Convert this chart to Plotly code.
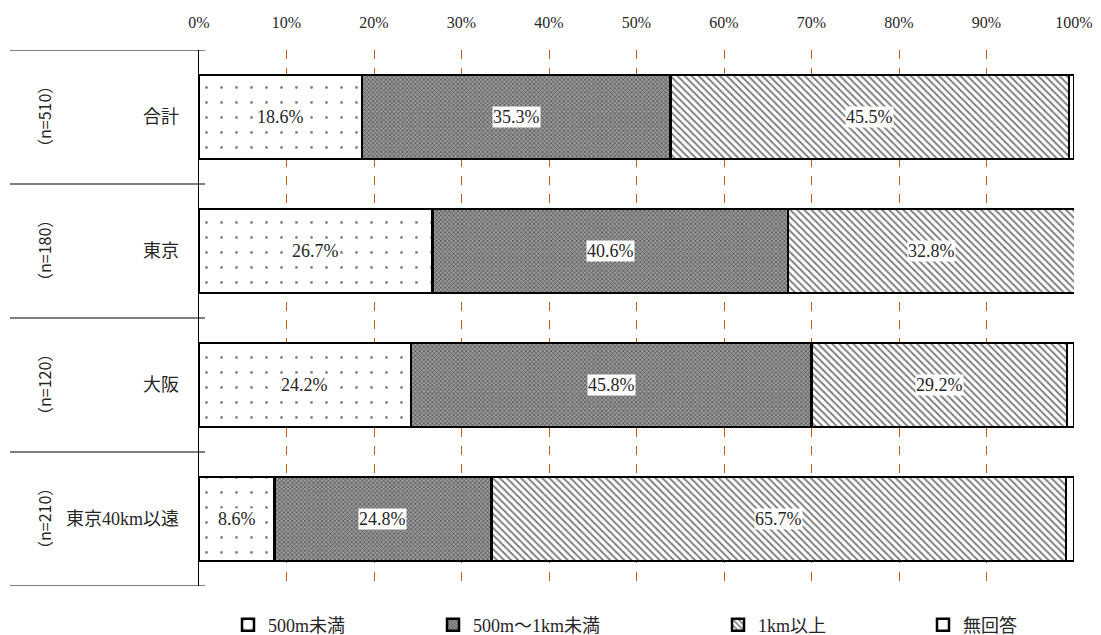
import plotly.graph_objects as go

categories = ["合計", "東京", "大阪", "東京40km以遠"]
n_labels = ["（n=510）", "（n=180）", "（n=120）", "（n=210）"]
series_names = ["500m未満", "500m～1km未満", "1km以上", "無回答"]
v_under500 = [18.6, 26.7, 24.2, 8.6]
v_500to1k = [35.3, 40.6, 45.8, 24.8]
v_over1k = [45.5, 32.8, 29.2, 65.7]
v_noans = [0.6, 0.0, 0.8, 0.9]
x_ticks = [0, 10, 20, 30, 40, 50, 60, 70, 80, 90, 100]

series_values = [v_under500, v_500to1k, v_over1k, v_noans]
show_labels = [True, True, True, False]

FONT = "Liberation Serif, Noto Sans CJK JP, serif"
CJK = "Noto Sans CJK JP, sans-serif"
TXT = "#262626"

patterns = [
    dict(shape=".", fgcolor="#111111", bgcolor="white", size=15, solidity=0.03, fillmode="overlay"),
    dict(shape="x", fgcolor="#000000", bgcolor="#9a9a9a", size=3, solidity=0.4, fillmode="overlay"),
    dict(shape="\\", fgcolor="#000000", bgcolor="white", size=5, solidity=0.4, fillmode="overlay"),
    dict(shape="", fgcolor="#000000", bgcolor="white"),
]

# plot area geometry in pixels
W, H = 1101, 635
L, R, T, B = 199, 27, 50, 49
pw = W - L - R
ph = H - T - B

fig = go.Figure()
legend_ids = ["legend", "legend2", "legend3", "legend4"]
for i, (name, vals) in enumerate(zip(series_names, series_values)):
    fig.add_trace(go.Bar(
        y=categories, x=vals, name=name, orientation="h",
        marker=dict(color="white", pattern=patterns[i],
                    line=dict(color="black", width=2.5)),
        legend=legend_ids[i], hoverinfo="x+name",
    ))

# data labels with white boxes
annotations = []
for ci, cat in enumerate(categories):
    start = 0.0
    for si, vals in enumerate(series_values):
        v = vals[ci]
        if show_labels[si]:
            annotations.append(dict(
                x=start + v / 2, y=cat, xref="x", yref="y",
                text=f"{v:.1f}%", showarrow=False,
                font=dict(family=FONT, size=18, color=TXT),
                bgcolor="white", borderpad=0,
            ))
        start += v

# category labels and n labels
for ci, cat in enumerate(categories):
    annotations.append(dict(
        x=(181 - L) / pw, y=cat, xref="paper", yref="y",
        text=cat, showarrow=False, xanchor="right",
        font=dict(family=FONT, size=18, color=TXT),
    ))
    annotations.append(dict(
        x=(30 - L) / pw, y=cat, xref="paper", yref="y",
        text=n_labels[ci], showarrow=False, textangle=-90,
        font=dict(family=CJK, size=16, color=TXT),
    ))

# separator lines in label area
shapes = []
for k in range(len(categories) + 1):
    shapes.append(dict(
        type="line", xref="paper", yref="y",
        x0=(10 - L) / pw, x1=(205 - L) / pw,
        y0=k - 0.5, y1=k - 0.5,
        line=dict(color="black", width=1.2),
    ))

# legends placed individually
icon_px = [228, 433, 718, 923]
layout_legends = {}
for i, lid in enumerate(legend_ids):
    layout_legends[lid] = dict(
        x=(icon_px[i] - L) / pw, y=(H - B - 625) / ph,
        xanchor="left", yanchor="middle", orientation="h",
        font=dict(family=FONT, size=18, color=TXT),
        bgcolor="rgba(0,0,0,0)", itemclick=False, itemwidth=30,
    )

fig.update_layout(
    width=W, height=H,
    margin=dict(l=L, r=R, t=T, b=B, autoexpand=False),
    barmode="stack", bargap=0.37,
    plot_bgcolor="white", paper_bgcolor="white",
    font=dict(family=FONT, color=TXT),
    xaxis=dict(
        side="top", range=[0, 100], tickvals=x_ticks,
        ticktext=[f"{t}%" for t in x_ticks],
        showgrid=True, gridcolor="#c55a11", griddash="dash", gridwidth=1,
        zeroline=False, showline=False, ticks="",
        tickfont=dict(family=FONT, size=16, color=TXT),
        ticklabelstandoff=18,
    ),
    yaxis=dict(
        categoryorder="array", categoryarray=categories,
        range=[len(categories) - 0.5, -0.5],
        showticklabels=False, ticks="", showgrid=False, zeroline=False,
        showline=True, linecolor="black", linewidth=1,
    ),
    annotations=annotations, shapes=shapes,
    showlegend=True,
    **layout_legends,
)

fig.write_html("out.html")
